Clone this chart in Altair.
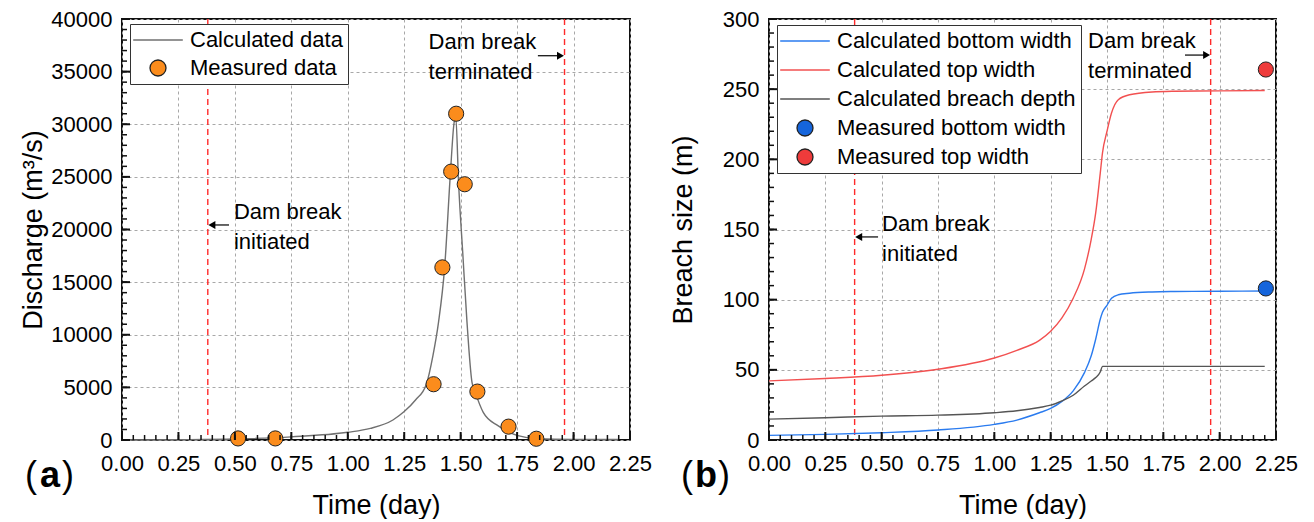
import altair as alt
import pandas as pd

FONT = "Liberation Sans"

# ---------------- panel (a): discharge ----------------
calc_day = [0.0, 0.25, 0.5, 0.75, 1.0, 1.1, 1.2, 1.25, 1.3, 1.348, 1.377, 1.402, 1.429,
            1.455, 1.47, 1.478, 1.491, 1.51, 1.528, 1.55, 1.565, 1.6, 1.665, 1.754, 1.842, 2.0, 2.2]
calc_q = [0, 30, 100, 300, 730, 1100, 1900, 2700, 3800, 5300, 8000, 11200, 16400,
          25500, 30000, 30800, 24300, 17500, 11200, 5500, 4500, 2630, 1360, 410, 120, 60, 50]
meas_day = [0.514, 0.679, 1.380, 1.419, 1.458, 1.480, 1.518, 1.574, 1.712, 1.835]
meas_q = [150, 150, 5300, 16400, 25500, 31000, 24300, 4600, 1270, 120]

# ---------------- panel (b): breach size ----------------
br_day = [0.0, 0.25, 0.5, 0.75, 1.0, 1.1, 1.2, 1.25, 1.3, 1.35, 1.4, 1.43, 1.45, 1.47,
          1.48, 1.5, 1.52, 1.55, 1.6, 1.7, 1.8, 2.0, 2.2]
br_bottom = [3.3, 4.0, 5.2, 7.1, 11.1, 14.2, 19.4, 22.5, 27.5, 35.0, 48.0, 60.0, 72.0, 86.0,
             91.0, 96.0, 101.0, 103.5, 104.6, 105.5, 105.8, 106.0, 106.2]
br_top = [42.1, 43.8, 46.1, 50.4, 58.4, 63.9, 71.0, 77.5, 87.0, 101.0, 121.8, 143.0, 162.0, 190.0,
          204.6, 220.0, 233.0, 242.5, 246.0, 248.0, 248.5, 248.8, 249.1]
br_depth = [14.9, 15.9, 17.0, 17.7, 19.4, 20.8, 23.2, 24.8, 27.9, 31.9, 38.5, 42.0, 44.5, 48.5,
            52.5, 52.5, 52.5, 52.5, 52.5, 52.5, 52.5, 52.5, 52.5]
meas_br_day = [2.205, 2.205]
meas_br_val = [108, 264]

# event lines (day)
events = [0.38, 1.96]

# axis ticks
x_major = [0.0, 0.25, 0.5, 0.75, 1.0, 1.25, 1.5, 1.75, 2.0, 2.25]
x_minor = [round(i * 0.05, 2) for i in range(46)]
ya_major = [0, 5000, 10000, 15000, 20000, 25000, 30000, 35000, 40000]
ya_minor = list(range(0, 40001, 1000))
yb_major = [0, 50, 100, 150, 200, 250, 300]
yb_minor = list(range(0, 301, 10))

# annotations
ann_text = ["Dam break", "initiated", "Dam break", "terminated"]
ann_a_day = [0.496, 0.496, 1.358, 1.358]
ann_a_val = [21660, 18810, 37790, 34940]
ann_b_day = [0.502, 0.502, 1.416, 1.416]
ann_b_val = [153.9, 132.5, 284.3, 263.0]

arr_a_from = [0.474, 1.842]
arr_a_to = [0.398, 1.942]
arr_a_val = [20430, 36510]
arr_b_from = [0.484, 1.846]
arr_b_to = [0.398, 1.942]
arr_b_val = [144.7, 274.3]
head_shapes = ["triangle-left", "triangle-right"]

LINE_SYM = "M-3.1,0H3.1"


def make_panel(lines_df, pts_df, series, stroke_rng, fill_rng, shape_rng,
               ydom, ymaj, ymin, ytitle, ytitle_pad, ann_day, ann_val, arr_from, arr_to, arr_val,
               tag, tag_x, w, h, rowpad, leg_y):
    xs = alt.Scale(domain=[0, 2.25], nice=False, zero=False)
    ys = alt.Scale(domain=ydom, nice=False, zero=False)
    xaxis = alt.Axis(values=x_major, format=".2f", title="Time (day)", grid=True,
                     labelFlush=False, labelOverlap=False, labelPadding=13, titlePadding=18)
    yaxis = alt.Axis(values=ymaj, format="d", title=ytitle, grid=True,
                     labelFlush=False, labelOverlap=False, labelPadding=10, titlePadding=ytitle_pad)
    X = lambda f="t:Q": alt.X(f, scale=xs, axis=xaxis)
    Y = lambda f="v:Q": alt.Y(f, scale=ys, axis=yaxis)
    leg = alt.Legend(title=None, orient="none", legendX=8, legendY=leg_y, padding=5, strokeColor="#333",
                     fillColor="white", labelFont=FONT, labelFontSize=22, labelColor="black",
                     symbolSize=256, symbolStrokeWidth=1.3, symbolOffset=12, labelOffset=21,
                     rowPadding=rowpad, labelLimit=500)
    s_stroke = alt.Scale(domain=series, range=stroke_rng)
    s_fill = alt.Scale(domain=series, range=fill_rng)
    s_shape = alt.Scale(domain=series, range=shape_rng)

    ev = alt.Chart(pd.DataFrame({"t": events})).mark_rule(
        color="#FF2A2A", strokeDash=[6, 4], strokeWidth=1.4
    ).encode(x=X())

    lines = alt.Chart(lines_df).mark_line(strokeWidth=1.4, interpolate="monotone").encode(
        x=X(), y=Y(),
        stroke=alt.Stroke("s:N", scale=s_stroke, legend=leg),
    )
    pts = alt.Chart(pts_df).mark_point(filled=True, size=230, strokeWidth=1, opacity=1).encode(
        x=X(), y=Y(),
        stroke=alt.Stroke("s:N", scale=s_stroke, legend=leg),
        fill=alt.Fill("s:N", scale=s_fill, legend=leg),
        shape=alt.Shape("s:N", scale=s_shape, legend=leg),
    )

    xt1 = alt.Chart(pd.DataFrame({"t": x_major})).mark_rule(color="#111", strokeWidth=2).encode(
        x=X(), y=alt.value(h), y2=alt.value(h - 8))
    xt2 = alt.Chart(pd.DataFrame({"t": x_minor})).mark_rule(color="#111", strokeWidth=1.5).encode(
        x=X(), y=alt.value(h), y2=alt.value(h - 5))
    yt1 = alt.Chart(pd.DataFrame({"v": ymaj})).mark_rule(color="#111", strokeWidth=2).encode(
        y=Y(), x=alt.value(0), x2=alt.value(8))
    yt2 = alt.Chart(pd.DataFrame({"v": ymin})).mark_rule(color="#111", strokeWidth=1.5).encode(
        y=Y(), x=alt.value(0), x2=alt.value(5))

    ann = alt.Chart(pd.DataFrame({"t": ann_day, "v": ann_val, "txt": ann_text})).mark_text(
        align="left", baseline="middle", font=FONT, fontSize=22, color="black"
    ).encode(x=X(), y=Y(), text="txt:N")

    arr = alt.Chart(pd.DataFrame({"t": arr_from, "t2": arr_to, "v": arr_val})).mark_rule(
        color="black", strokeWidth=1.2
    ).encode(x=X(), x2="t2:Q", y=Y())
    heads = alt.Chart(pd.DataFrame({"t": arr_to, "v": arr_val, "sh": head_shapes})).mark_point(
        filled=True, color="black", size=65, opacity=1
    ).encode(x=X(), y=Y(), shape=alt.Shape("sh:N", scale=None, legend=None))

    tags = []
    for txt, dx, wt in [("(", -19, "normal"), (tag, 0, "bold"), (")", 18, "normal")]:
        tags.append(alt.Chart(pd.DataFrame({"k": [0]})).mark_text(
            font=FONT, fontSize=36, fontWeight=wt, color="black", align="center", baseline="middle", text=txt
        ).encode(x=alt.value(tag_x + dx), y=alt.value(h + 36)))

    return alt.layer(ev, lines, pts, xt1, xt2, yt1, yt2, arr, heads, ann, *tags).properties(
        width=w, height=h)


df_a_lines = pd.DataFrame({"t": calc_day, "v": calc_q, "s": "Calculated data"})
df_a_pts = pd.DataFrame({"t": meas_day, "v": meas_q, "s": "Measured data"})
series_a = ["Calculated data", "Measured data"]

df_b_lines = pd.concat([
    pd.DataFrame({"t": br_day, "v": br_bottom, "s": "Calculated bottom width"}),
    pd.DataFrame({"t": br_day, "v": br_top, "s": "Calculated top width"}),
    pd.DataFrame({"t": br_day, "v": br_depth, "s": "Calculated breach depth"}),
])
df_b_pts = pd.DataFrame({"t": meas_br_day, "v": meas_br_val,
                         "s": ["Measured bottom width", "Measured top width"]})
series_b = ["Calculated bottom width", "Calculated top width", "Calculated breach depth",
            "Measured bottom width", "Measured top width"]

pa = make_panel(df_a_lines, df_a_pts, series_a,
                ["#707070", "#222222"], ["#707070", "#FB8C1C"], [LINE_SYM, "circle"],
                [0, 40000], ya_major, ya_minor, "Discharge (m³/s)", 3,
                ann_a_day, ann_a_val, arr_a_from, arr_a_to, arr_a_val, "a", -72, 508, 421, 6, 5)
pb = make_panel(df_b_lines, df_b_pts, series_b,
                ["#2A7BEF", "#F25050", "#555555", "#222222", "#222222"],
                ["#2A7BEF", "#F25050", "#555555", "#1565DC", "#EE3B3B"],
                [LINE_SYM, LINE_SYM, LINE_SYM, "circle", "circle"],
                [0, 300], yb_major, yb_minor, "Breach size (m)", 25,
                ann_b_day, ann_b_val, arr_b_from, arr_b_to, arr_b_val, "b", -63, 507, 421, 7, 6)

chart = alt.hconcat(pa, pb, spacing=15).resolve_scale(
    x="independent", y="independent", stroke="independent", fill="independent", shape="independent"
).properties(
    padding={"left": 18, "top": 7, "right": 0, "bottom": 0}
).configure_view(
    stroke="#111", strokeWidth=2
).configure_axis(
    labelFont=FONT, titleFont=FONT, labelFontSize=22, titleFontSize=27, titleFontWeight="normal",
    labelColor="black", titleColor="black", ticks=False, domain=False,
    gridColor="#A8A8A8", gridDash=[3, 3], gridWidth=1
)

chart.save("out.html", embed_options={"renderer": "svg", "actions": False})
